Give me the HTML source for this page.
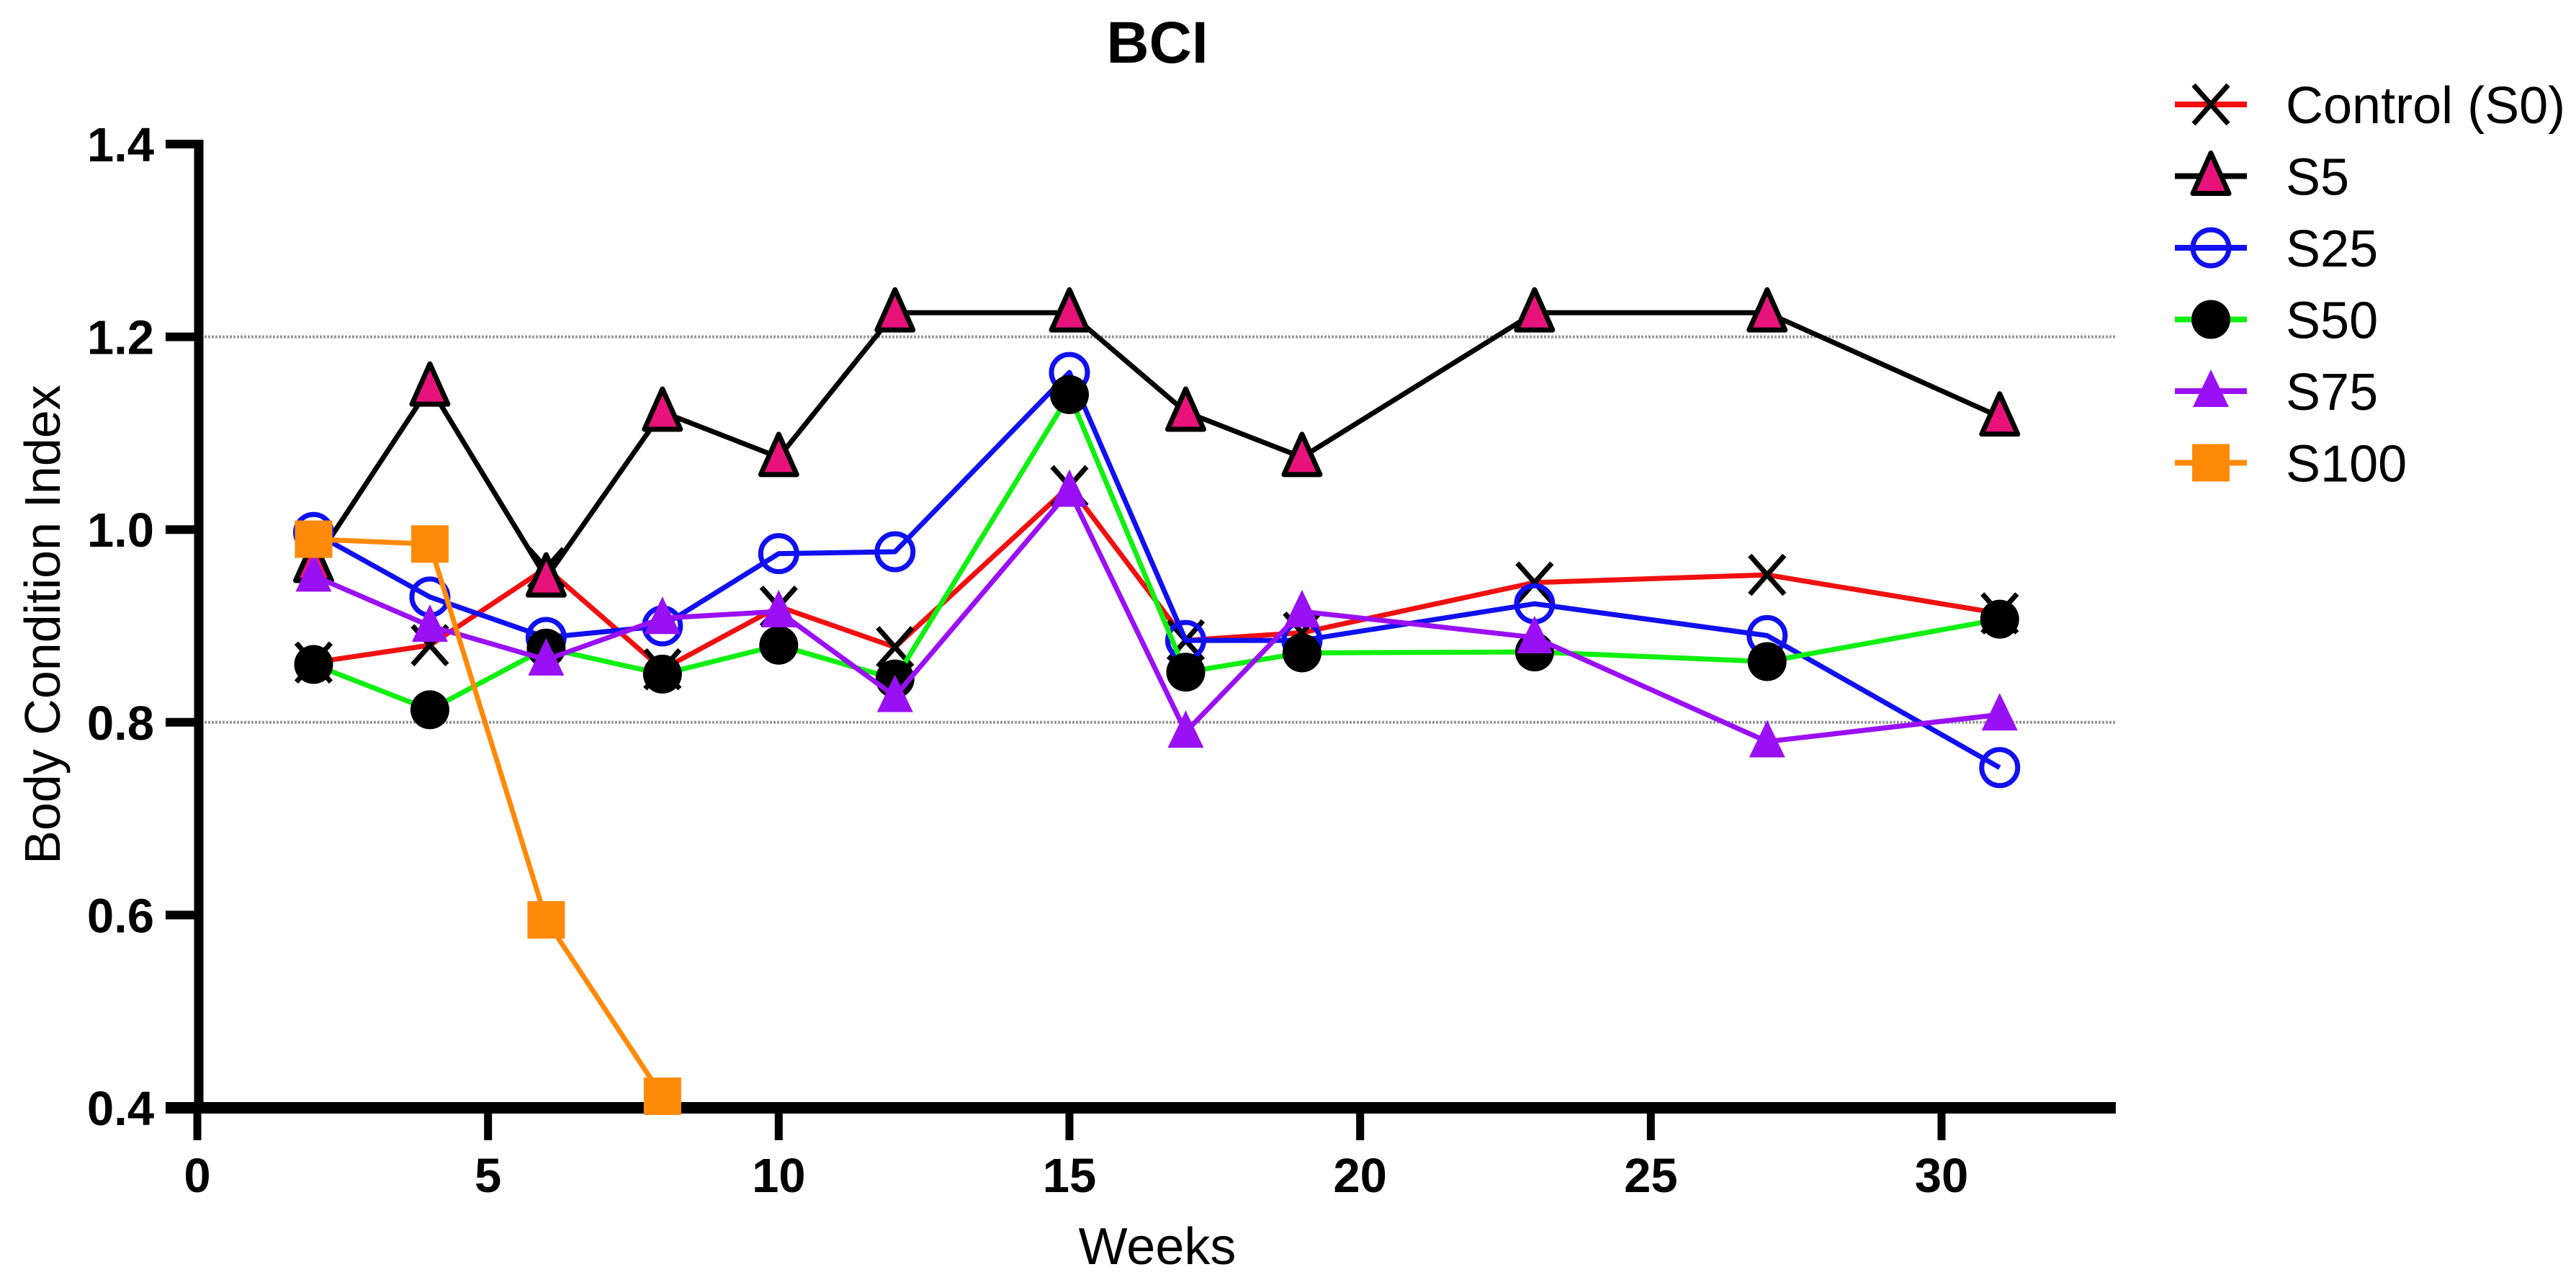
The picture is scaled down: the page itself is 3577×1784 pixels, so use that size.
<!DOCTYPE html>
<html><head><meta charset="utf-8"><style>
html,body{margin:0;padding:0;background:#fff}
svg{display:block;font-family:"Liberation Sans",Arial,sans-serif}
</style></head><body>
<svg id="chart" width="3577" height="1784" viewBox="0 0 3577 1784">
<text x="1607" y="87" font-size="82" font-weight="bold" text-anchor="middle">BCI</text>
<text transform="translate(83,867) rotate(-90)" font-size="70" text-anchor="middle">Body Condition Index</text>
<text x="1607" y="1755" font-size="72" text-anchor="middle">Weeks</text>
<g id="grid"></g><g id="axes"></g><g id="series"></g><g id="legend"></g>
</svg>
<script>
const weeks=[2,4,6,8,10,12,15,17,19,23,27,31];
const weeksS100=[2,4,6,8];
const control=[0.862,0.88,0.96,0.855,0.92,0.878,1.045,0.885,0.893,0.945,0.953,0.913];
const s5=[0.965,1.148,0.95,1.122,1.075,1.225,1.225,1.122,1.075,1.225,1.225,1.117];
const s25=[0.997,0.93,0.888,0.9,0.975,0.977,1.163,0.885,0.885,0.923,0.89,0.753];
const s50=[0.86,0.813,0.877,0.85,0.88,0.845,1.14,0.852,0.872,0.873,0.863,0.907];
const s75=[0.952,0.9,0.865,0.908,0.915,0.827,1.04,0.79,0.915,0.888,0.78,0.808];
const s100=[0.99,0.985,0.595,0.412];
const xTicks=[0,5,10,15,20,25,30];
const yTicks=[0.4,0.6,0.8,1.0,1.2,1.4];
const gridVals=[0.8,1.2];
const NS='http://www.w3.org/2000/svg';
const X=v=>274+(v/30)*(2696-274);
const Y=v=>1538-(v-0.4)/1.0*(1538-200);
function mk(tag,attrs,parent){const e=document.createElementNS(NS,tag);for(const k in attrs)e.setAttribute(k,attrs[k]);parent.appendChild(e);return e;}
const grid=document.getElementById('grid'),axes=document.getElementById('axes'),ser=document.getElementById('series'),leg=document.getElementById('legend');
gridVals.forEach(v=>{const l=mk('line',{x1:274,x2:2938,y1:Y(v),y2:Y(v),stroke:'#999','stroke-width':4,'stroke-dasharray':'3 2'},grid);

});
let a=mk('line',{x1:276,x2:276,y1:194,y2:1546,stroke:'#000','stroke-width':13},axes);


a=mk('line',{x1:230,x2:2938,y1:1538,y2:1538,stroke:'#000','stroke-width':16},axes);


yTicks.forEach(v=>{mk('line',{x1:230,x2:276,y1:Y(v),y2:Y(v),stroke:'#000','stroke-width':12},axes);
const t=mk('text',{x:214,y:Y(v)+24,'font-size':67,'font-weight':'bold','text-anchor':'end'},axes);t.textContent=v.toFixed(1);

});
xTicks.forEach(v=>{mk('line',{x1:X(v),x2:X(v),y1:1538,y2:1583,stroke:'#000','stroke-width':11},axes);
const t=mk('text',{x:X(v),y:1655,'font-size':67,'font-weight':'bold','text-anchor':'middle'},axes);t.textContent=v;

});
function marker(type,x,y,g){
 if(type==='x'){mk('path',{d:`M${x-24},${y-27}L${x+24},${y+27}M${x-24},${y+27}L${x+24},${y-27}`,stroke:'#000','stroke-width':7,fill:'none'},g);}
 else if(type==='tri'){mk('path',{d:`M${x},${y-32}L${x+25},${y+24}L${x-25},${y+24}Z`,fill:'#e8137a',stroke:'#000','stroke-width':7,'stroke-linejoin':'round'},g);}
 else if(type==='ocirc'){mk('circle',{cx:x,cy:y,r:25,fill:'none',stroke:'#1010f0','stroke-width':7},g);}
 else if(type==='circ'){mk('circle',{cx:x,cy:y,r:27,fill:'#000'},g);}
 else if(type==='ptri'){mk('path',{d:`M${x},${y-30}L${x+25},${y+22}L${x-25},${y+22}Z`,fill:'#9a10f5'},g);}
 else if(type==='sq'){mk('rect',{x:x-26,y:y-26,width:52,height:52,fill:'#ff8a0a'},g);}
}
const seriesList=[
 {name:'Control (S0)',xs:weeks,ys:control,color:'#f01010',m:'x',id:'control'},
 {name:'S5',xs:weeks,ys:s5,color:'#000',m:'tri',id:'s5'},
 {name:'S25',xs:weeks,ys:s25,color:'#1010f0',m:'ocirc',id:'s25'},
 {name:'S50',xs:weeks,ys:s50,color:'#10f010',m:'circ',id:'s50'},
 {name:'S75',xs:weeks,ys:s75,color:'#9a10f5',m:'ptri',id:'s75'},
 {name:'S100',xs:weeksS100,ys:s100,color:'#ff8a0a',m:'sq',id:'s100'}];
seriesList.forEach((s,i)=>{
 const g=mk('g',{},ser);
 
 
 const d=s.xs.map((w,j)=>(j?'L':'M')+X(w)+','+Y(s.ys[j])).join('');
 mk('path',{d:d,fill:'none',stroke:s.color,'stroke-width':7,'stroke-linejoin':'round'},g);
 s.xs.forEach((w,j)=>marker(s.m,X(w),Y(s.ys[j]),g));
 const ly=145+i*99.5;
 const lg=mk('g',{},leg);
 
 
 mk('line',{x1:3020,x2:3120,y1:ly,y2:ly,stroke:s.color,'stroke-width':8},lg);
 marker(s.m,3070,ly,lg);
 const t=mk('text',{x:3174,y:ly+26,'font-size':72},lg);t.textContent=s.name;
});
</script>
</body></html>
